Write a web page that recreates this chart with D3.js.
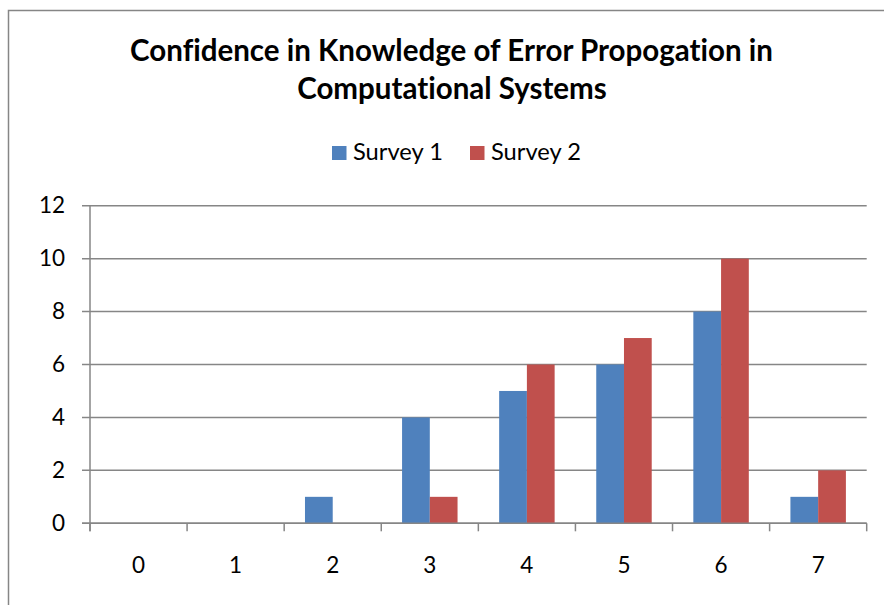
<!DOCTYPE html>
<html>
<head>
<meta charset="utf-8">
<script src="https://cdn.jsdelivr.net/npm/d3@7"></script>
<style>
  html, body { margin: 0; padding: 0; background: #fff; }
  svg { display: block; }
  text {
    font-family: Lato, "Open Sans", "DejaVu Sans", sans-serif; fill: #000;
    font-variant-ligatures: none; font-feature-settings: "liga" 0, "clig" 0;
  }
</style>
</head>
<body>
<svg id="chart" width="884" height="605"></svg>
<script>
// Chart data
const categories = ["0", "1", "2", "3", "4", "5", "6", "7"];
const seriesNames = ["Survey 1", "Survey 2"];
const survey1 = [0, 0, 1, 4, 5, 6, 8, 1];
const survey2 = [0, 0, 0, 1, 6, 7, 10, 2];
const yTicks = [0, 2, 4, 6, 8, 10, 12];
const titleLines = ["Confidence in Knowledge of Error Propogation in", "Computational Systems"];

const colors = { "Survey 1": "#4F81BD", "Survey 2": "#C0504D" };
const gridColor = "#868686";

const svg = d3.select("#chart");
const W = 884, H = 605;

// Chart frame
svg.append("rect").attr("x", 0).attr("y", 0).attr("width", W).attr("height", H).attr("fill", "#fff");
svg.append("rect")
  .attr("x", 8.5).attr("y", 10.5)
  .attr("width", W + 20).attr("height", H + 20)
  .attr("fill", "none").attr("stroke", gridColor).attr("stroke-width", 1.5);

// Plot area
const plot = { left: 90, right: 866.7, top: 205.7, bottom: 523.3 };

const x0 = d3.scaleBand().domain(categories).range([plot.left, plot.right]).padding(0);
const x1 = d3.scaleBand().domain(seriesNames).range([0, x0.bandwidth()])
  .paddingInner(0).paddingOuter(0.75);
const y = d3.scaleLinear().domain([0, 12]).range([plot.bottom, plot.top]);

// Shrink/grow a text's font size so it spans the given width
function fitWidth(sel, target) {
  const node = sel.node();
  const fs = parseFloat(sel.attr("font-size"));
  const w = node.getComputedTextLength();
  if (w > 0) sel.attr("font-size", (fs * target / w).toFixed(2));
}

// Title
const t1 = svg.append("text").attr("x", 451.5).attr("y", 61)
  .attr("text-anchor", "middle").attr("font-weight", "bold").attr("font-size", 28)
  .text(titleLines[0]);
fitWidth(t1, 643);
svg.append("text").attr("x", 452).attr("y", 99)
  .attr("text-anchor", "middle").attr("font-weight", "bold").attr("font-size", t1.attr("font-size"))
  .text(titleLines[1]);

// Legend
const legendItems = [
  { name: seriesNames[0], sx: 332, tx: 353 },
  { name: seriesNames[1], sx: 470, tx: 491 }
];
const lg = svg.append("g").attr("class", "legend");
legendItems.forEach(d => {
  lg.append("rect").attr("x", d.sx).attr("y", 146).attr("width", 14.5).attr("height", 14)
    .attr("fill", colors[d.name]);
  const t = lg.append("text").attr("x", d.tx).attr("y", 160).attr("font-size", 21).text(d.name);
  fitWidth(t, 90);
});

// Horizontal gridlines with outward tick stubs
svg.append("g").selectAll("line").data(yTicks).join("line")
  .attr("x1", plot.left - 8).attr("x2", plot.right)
  .attr("y1", d => y(d)).attr("y2", d => y(d))
  .attr("stroke", gridColor).attr("stroke-width", 1.5);

// Y tick labels via axis generator (lines hidden)
const gyl = svg.append("g").attr("transform", `translate(${plot.left},0)`)
  .call(d3.axisLeft(y).tickValues(yTicks).tickSize(0).tickPadding(25).tickFormat(d3.format("d")));
gyl.select(".domain").remove();
gyl.selectAll("text").attr("font-size", 22.5).attr("font-family", null).attr("fill", "#000");

// Bars
const rows = categories.map((c, i) => ({ cat: c, vals: [
  { s: seriesNames[0], v: survey1[i] },
  { s: seriesNames[1], v: survey2[i] }
]}));
const groups = svg.append("g").selectAll("g").data(rows).join("g")
  .attr("transform", d => `translate(${x0(d.cat)},0)`);
groups.selectAll("rect").data(d => d.vals.filter(e => e.v > 0)).join("rect")
  .attr("x", d => x1(d.s)).attr("width", x1.bandwidth())
  .attr("y", d => y(d.v)).attr("height", d => y(0) - y(d.v))
  .attr("fill", d => colors[d.s]);

// Vertical axis line
svg.append("line").attr("x1", plot.left).attr("x2", plot.left)
  .attr("y1", plot.top).attr("y2", plot.bottom + 8)
  .attr("stroke", gridColor).attr("stroke-width", 1.5);

// Category axis: baseline, boundary ticks, labels
svg.append("line").attr("x1", plot.left - 8).attr("x2", plot.right)
  .attr("y1", plot.bottom).attr("y2", plot.bottom)
  .attr("stroke", gridColor).attr("stroke-width", 1.5);
const bounds = categories.map(c => x0(c)).concat([plot.right]);
svg.append("g").selectAll("line").data(bounds).join("line")
  .attr("x1", d => d).attr("x2", d => d)
  .attr("y1", plot.bottom).attr("y2", plot.bottom + 8)
  .attr("stroke", gridColor).attr("stroke-width", 1.5);
svg.append("g").selectAll("text").data(categories).join("text")
  .attr("x", d => x0(d) + x0.bandwidth() / 2).attr("y", 573)
  .attr("text-anchor", "middle").attr("font-size", 22.5)
  .text(d => d);
</script>
</body>
</html>
